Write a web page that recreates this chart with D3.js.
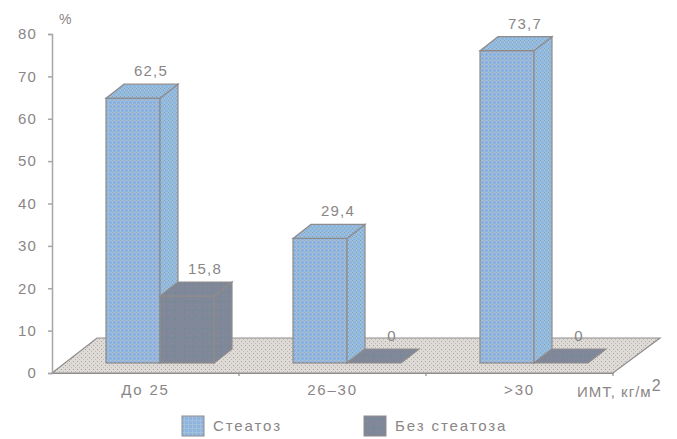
<!DOCTYPE html>
<html>
<head>
<meta charset="utf-8">
<script src="https://cdn.jsdelivr.net/npm/d3@7"></script>
<style>
  html, body { margin: 0; padding: 0; background: #fff; }
  text { font-family: "Liberation Sans", Arial, sans-serif; fill: #8a8686; }
</style>
</head>
<body>
<div id="chart"></div>
<script>
var categories = ["До 25", "26–30", ">30"];
var seriesNames = ["Стеатоз", "Без стеатоза"];
var steatosis = [62.5, 29.4, 73.7];
var noSteatosis = [15.8, 0, 0];
var yTicks = [0, 10, 20, 30, 40, 50, 60, 70, 80];

var width = 677, height = 439;
var depthX = 18, depthY = 14;     // 3d offset of the bars
var floorX = 45, floorY = 35;     // 3d offset of the floor
var baseX = 54, baseY = 10;       // bars stand this far into the floor
var edge = "#8f8b8b";

var svg = d3.select("#chart").append("svg")
  .attr("width", width)
  .attr("height", height)
  .style("display", "block");

var defs = svg.append("defs");

function addPattern(id, size, bg, dots) {
  var p = defs.append("pattern")
    .attr("id", id)
    .attr("patternUnits", "userSpaceOnUse")
    .attr("width", size)
    .attr("height", size);
  p.append("rect").attr("width", size).attr("height", size).attr("fill", bg);
  dots.forEach(function(d) {
    p.append("rect").attr("x", d[0]).attr("y", d[1])
      .attr("width", d[2]).attr("height", d[3]).attr("fill", d[4]);
  });
}

addPattern("blue", 4, "#8db4e0", [
  [0, 0, 4, 1, "#a3bfd8"], [0, 0, 1, 4, "#a3bfd8"], [0, 0, 1, 1, "#a9a3bd"], [2, 2, 1, 1, "#7ba6dc"]
]);
addPattern("blueSide", 4, "#8db6e0", [
  [0, 0, 4, 1, "#a0c0d8"], [0, 0, 1, 4, "#a0c0d8"], [0, 0, 1, 1, "#7f9fb4"]
]);
addPattern("grey", 9, "#7f8899", [
  [4, 4, 1, 1, "#4f8f93"], [1, 1, 1, 1, "#958a99"], [7, 2, 1, 1, "#8f8795"], [2, 7, 1, 1, "#8f8795"], [7, 7, 1, 1, "#958a99"]
]);
addPattern("floor", 4, "#dedad6", [
  [1, 1, 1, 1, "#a8a3a1"], [3, 3, 1, 1, "#bdb8b5"]
]);
addPattern("legendBlue", 4, "#8db4e0", [
  [0, 0, 4, 1, "#a3c0d8"], [0, 0, 1, 4, "#a3c0d8"]
]);

var y = d3.scaleLinear().domain([0, 80]).range([373, 34]);

var x0 = d3.scaleBand().domain(categories).range([52, 613]);
var x1 = d3.scaleBand().domain(seriesNames).range([baseX, baseX + 108]);

function pts(list) {
  return list.map(function(p) { return p.join(","); }).join(" ");
}

// floor of the chart
var left = x0.range()[0], right = x0.range()[1];
svg.append("polygon")
  .attr("points", pts([
    [left, y(0)], [left + floorX, y(0) - floorY],
    [right + floorX + 2, y(0) - floorY], [right, y(0)]
  ]))
  .attr("fill", "url(#floor)")
  .attr("stroke", edge)
  .attr("stroke-width", 1.2);

// y axis
var yAxis = svg.append("g")
  .attr("transform", "translate(" + left + ",0)")
  .call(d3.axisLeft(y).tickValues(yTicks).tickSize(4).tickSizeOuter(4).tickPadding(11));
yAxis.selectAll("path, line").attr("stroke", "#aaa6a6").attr("stroke-width", 1.5);
yAxis.selectAll("text")
  .style("font-size", "15px")
  .style("letter-spacing", "1.2px")
  .style("font-family", '"Liberation Sans", Arial, sans-serif');

// x axis, ticks sit on the group boundaries
var xAxis = svg.append("g")
  .attr("transform", "translate(0," + y(0) + ")")
  .call(d3.axisBottom(x0).tickSize(0).tickPadding(11));
xAxis.select("path").attr("stroke", edge).attr("stroke-width", 1.2);
xAxis.selectAll("text")
  .style("font-size", "15px")
  .style("letter-spacing", "1.8px")
  .style("font-family", '"Liberation Sans", Arial, sans-serif');
svg.append("g").selectAll("line")
  .data(categories)
  .join("line")
  .attr("x1", function(d) { return x0(d) + x0.step(); })
  .attr("x2", function(d) { return x0(d) + x0.step(); })
  .attr("y1", y(0))
  .attr("y2", y(0) + 3)
  .attr("stroke", edge)
  .attr("stroke-width", 1.2);

// one 3d bar: side, top, front
function drawBar(cat, name, value, fill, sideFill) {
  var xa = x0(cat) + x1(name);
  var xb = xa + x1.bandwidth();
  var base = y(0) - baseY;
  var top = y(value) - baseY;
  var g = svg.append("g").attr("stroke", edge).attr("stroke-width", 1.2);

  if (value > 0) {
    g.append("rect")
      .attr("x", xa).attr("y", top)
      .attr("width", xb - xa).attr("height", base - top)
      .attr("fill", fill);
    g.append("polygon")
      .attr("points", pts([[xb, top], [xb + depthX, top - depthY], [xb + depthX, base - depthY], [xb, base]]))
      .attr("fill", sideFill);
  }
  g.append("polygon")
    .attr("points", pts([[xa, top], [xa + depthX, top - depthY], [xb + depthX, top - depthY], [xb, top]]))
    .attr("fill", sideFill);

  svg.append("text")
    .attr("x", (xa + xb) / 2 + depthX)
    .attr("y", top - depthY - 8)
    .attr("text-anchor", "middle")
    .style("font-size", "15px")
    .style("letter-spacing", "1.2px")
    .text(String(value).replace(".", ","));
}

categories.forEach(function(cat, i) {
  drawBar(cat, seriesNames[0], steatosis[i], "url(#blue)", "url(#blueSide)");
  drawBar(cat, seriesNames[1], noSteatosis[i], "url(#grey)", "url(#grey)");
});

// axis captions
svg.append("text").attr("x", 59).attr("y", 24)
  .style("font-size", "14px").text("%");

var unit = svg.append("text").attr("x", 577).attr("y", 397)
  .style("font-size", "15px").style("letter-spacing", "1px");
unit.append("tspan").text("ИМТ, кг/м");
unit.append("tspan").attr("dy", -6).style("font-size", "16px").text("2");

// legend
var legendX = [182, 364], legendFill = ["url(#legendBlue)", "url(#grey)"];
seriesNames.forEach(function(name, i) {
  svg.append("rect")
    .attr("x", legendX[i]).attr("y", 416)
    .attr("width", 22).attr("height", 20)
    .attr("fill", legendFill[i])
    .attr("stroke", edge)
    .attr("stroke-width", 1);
  svg.append("text")
    .attr("x", legendX[i] + 31).attr("y", 431)
    .style("font-size", "15px")
    .style("letter-spacing", "1.9px")
    .text(name);
});
</script>
</body>
</html>
